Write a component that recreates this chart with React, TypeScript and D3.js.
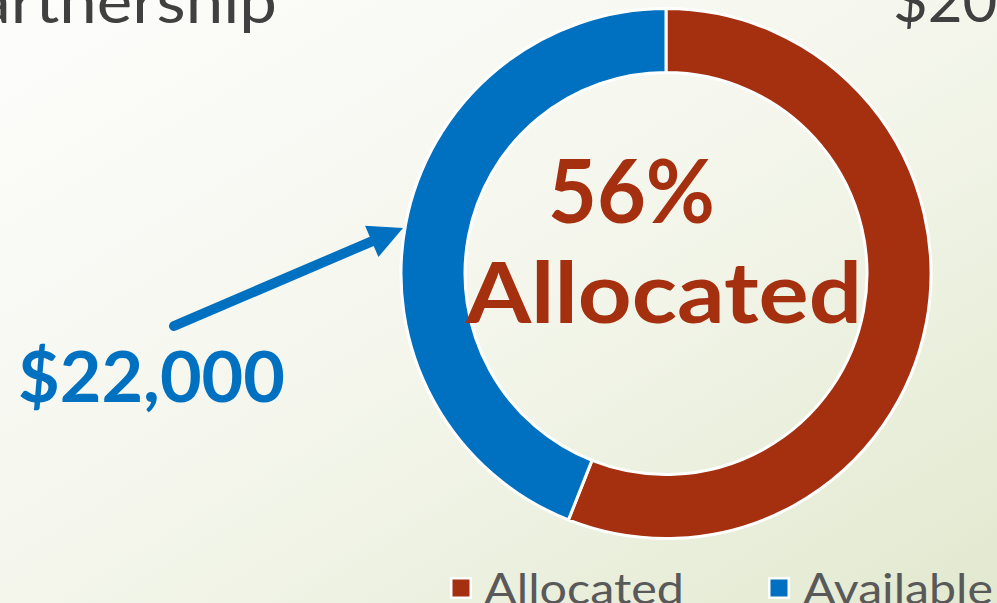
import React from "react";
import * as d3 from "d3";

const categories = ["Allocated", "Available"];
const values = [56, 44];
const colors = ["#A5300F", "#0070C0"];
const centerLines = ["56%", "Allocated"];
const calloutLabel = "$22,000";
const titleText = "Partnership";
const topRightText = "$20,000";

const W = 997;
const H = 603;

export default function App() {
  const cx = 666;
  const cy = 273.5;
  const outerR = 265;
  const innerR = 201;

  const pie = d3.pie<number>().sort(null).value((d) => d)(values);
  const arc = d3.arc<d3.PieArcDatum<number>>().innerRadius(innerR).outerRadius(outerR);

  // arrow geometry
  const start: [number, number] = [174, 326];
  const tip: [number, number] = [403, 228];
  const dx = tip[0] - start[0];
  const dy = tip[1] - start[1];
  const len = Math.sqrt(dx * dx + dy * dy);
  const ux = dx / len;
  const uy = dy / len;
  const headLen = 34;
  const headHalf = 17;
  const bx = tip[0] - ux * headLen;
  const by = tip[1] - uy * headLen;
  const px = -uy;
  const py = ux;
  const headPts = [
    [tip[0], tip[1]],
    [bx + px * headHalf, by + py * headHalf],
    [bx - px * headHalf, by - py * headHalf],
  ]
    .map((p) => p.join(","))
    .join(" ");

  const legendX = [450, 768];
  const legendTextX = [484, 803];
  const legendTextLen = [200, 190];

  return (
    <svg
      width={W}
      height={H}
      style={{ position: "fixed", left: 0, top: 0, display: "block" }}
      fontFamily="Lato, 'DejaVu Sans', sans-serif"
    >
      <defs>
        <linearGradient id="bg" x1="0" y1="0" x2="1" y2="1">
          <stop offset="0" stopColor="#fdfdfc" />
          <stop offset="0.5" stopColor="#f4f6ec" />
          <stop offset="1" stopColor="#e2e9cf" />
        </linearGradient>
      </defs>
      <rect x={0} y={0} width={W} height={H} fill="url(#bg)" />

      {/* Title fragments */}
      <text x={-62} y={23} fontSize={60} fill="#404040" textLength={339} lengthAdjust="spacingAndGlyphs">
        {titleText}
      </text>
      <text x={893} y={22} fontSize={60} fill="#404040">
        {topRightText}
      </text>

      {/* Donut */}
      <g transform={`translate(${cx},${cy})`}>
        {pie.map((d, i) => (
          <path key={categories[i]} d={arc(d) || ""} fill={colors[i]} stroke="#ffffff" strokeWidth={3} />
        ))}
      </g>

      {/* Center labels */}
      <text
        x={548}
        y={223}
        fontSize={88}
        fontWeight="bold"
        fill={colors[0]}
        textLength={167}
        lengthAdjust="spacingAndGlyphs"
      >
        {centerLines[0]}
      </text>
      <text
        x={466}
        y={323}
        fontSize={84}
        fontWeight="bold"
        fill={colors[0]}
        textLength={396}
        lengthAdjust="spacingAndGlyphs"
      >
        {centerLines[1]}
      </text>

      {/* Arrow */}
      <line
        x1={start[0]}
        y1={start[1]}
        x2={bx + ux * 2}
        y2={by + uy * 2}
        stroke={colors[1]}
        strokeWidth={10}
        strokeLinecap="round"
      />
      <polygon points={headPts} fill={colors[1]} />

      <text
        x={18}
        y={402}
        fontSize={70}
        fontWeight="bold"
        fill={colors[1]}
        textLength={267}
        lengthAdjust="spacingAndGlyphs"
      >
        {calloutLabel}
      </text>

      {/* Legend */}
      {categories.map((c, i) => (
        <g key={c}>
          <rect x={legendX[i]} y={577} width={22} height={22} fill="#ffffff" />
          <rect x={legendX[i] + 2.5} y={579.5} width={17} height={17} fill={colors[i]} />
          <text
            x={legendTextX[i]}
            y={604}
            fontSize={43}
            fill="#595959"
            textLength={legendTextLen[i]}
            lengthAdjust="spacingAndGlyphs"
          >
            {c}
          </text>
        </g>
      ))}
    </svg>
  );
}
